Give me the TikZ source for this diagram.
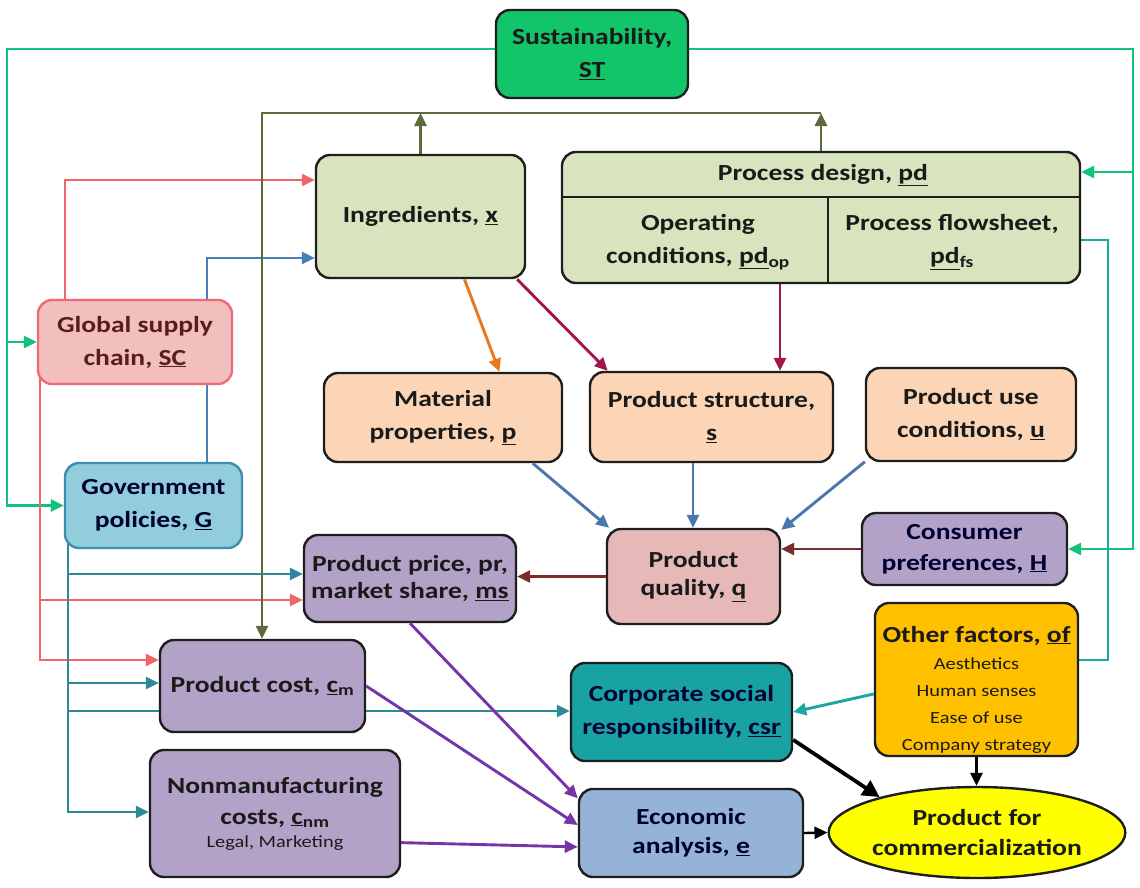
\documentclass[tikz,border=0pt]{standalone}
\usepackage{fontspec}
\setmainfont{Carlito}[FakeStretch=1.2]
\usetikzlibrary{arrows.meta,shapes.geometric,backgrounds}
\definecolor{grn}{HTML}{10C27A}
\definecolor{sustfill}{HTML}{12C46A}
\definecolor{redl}{HTML}{F0646A}
\definecolor{bluel}{HTML}{4A7FB5}
\definecolor{teall}{HTML}{2E8A9A}
\definecolor{olv}{HTML}{5C6A3C}
\definecolor{orng}{HTML}{E8781A}
\definecolor{crim}{HTML}{A3164C}
\definecolor{stl}{HTML}{4A78AE}
\definecolor{mar}{HTML}{7A2C2C}
\definecolor{purp}{HTML}{7435A8}
\definecolor{tealr}{HTML}{18A8A0}
\definecolor{lgreen}{HTML}{D7E4BD}
\definecolor{pinkf}{HTML}{F3BEBE}
\definecolor{pinkbd}{HTML}{EE6A76}
\definecolor{govf}{HTML}{92CDDC}
\definecolor{govbd}{HTML}{3C8FB0}
\definecolor{peach}{HTML}{FBD5B5}
\definecolor{pqf}{HTML}{E6B9B8}
\definecolor{lav}{HTML}{B3A2C7}
\definecolor{goldf}{HTML}{FFC000}
\definecolor{csrf}{HTML}{18A2A2}
\definecolor{econf}{HTML}{95B3D7}
\definecolor{yel}{HTML}{FFFF00}
\definecolor{txt}{HTML}{1A1A1A}
\definecolor{bd}{HTML}{1E1E1E}
\tikzset{
  nd/.style={draw=bd, rounded corners=14pt, line width=2.4pt, align=center,
    inner sep=1pt, text=txt, font=\bfseries\fontsize{23}{33}\selectfont},
  arr/.style={-{Triangle[length=13pt,width=12pt]}},
  ln/.style={line width=2.9pt},
  blk/.style={line width=3.8pt, draw=black},
  pdtext/.style={font=\bfseries\fontsize{23}{33}\selectfont, text=txt, align=center},
}
\newcommand{\sm}[1]{{\mdseries\fontsize{17}{25}\selectfont #1}}
\begin{document}
\begin{tikzpicture}[x=1pt,y=-1pt]
\useasboundingbox (0,0) rectangle (1140,887);
% nodes
\node[nd, fill=sustfill, minimum width=192pt, minimum height=88pt] (sust) at (592,54) {Sustainability,\\\underline{ST}};
\node[nd, fill=lgreen, minimum width=209pt, minimum height=123pt] (ingr) at (420.5,216.5) {Ingredients, \underline{x}};
\node[nd, fill=lgreen, minimum width=518pt, minimum height=131pt] (pd) at (821,217.5) {};
\draw[line width=2.2pt, draw=bd] (pd.west |- 0,197) -- (pd.east |- 0,197);
\draw[line width=2.2pt, draw=bd] (828,197) -- (828,283);
\node[pdtext] (pdt) at (823,175) {Process design, \underline{pd}};
\node[pdtext] (pdop) at (698,242) {Operating\\conditions, \underline{pd}\textsubscript{op}};
\node[pdtext] (pdfs) at (952,242) {Process flowsheet,\\\underline{pd}\textsubscript{fs}};
\node[nd, draw=pinkbd, fill=pinkf, text=mar!70!black, minimum width=194pt, minimum height=84pt] (gsc) at (135,342) {Global supply\\chain, \underline{SC}};
\node[nd, draw=govbd, fill=govf, text=black!80!blue, minimum width=177pt, minimum height=85pt] (gov) at (153.5,505.5) {Government\\policies, \underline{G}};
\node[nd, fill=peach, minimum width=238pt, minimum height=89pt] (matp) at (443,417.5) {Material\\properties, \underline{p}};
\node[nd, fill=peach, minimum width=243pt, minimum height=90pt] (pstr) at (711.5,417) {Product structure,\\\underline{s}};
\node[nd, fill=peach, minimum width=210pt, minimum height=93pt] (puse) at (971,414.5) {Product use\\conditions, \underline{u}};
\node[nd, fill=pqf, minimum width=173pt, minimum height=95pt, font=\bfseries\fontsize{23}{28}\selectfont] (pq) at (693.5,576.5) {Product\\quality, \underline{q}};
\node[nd, fill=lav, text=black!80!blue, minimum width=205pt, minimum height=72pt, font=\bfseries\fontsize{23}{31}\selectfont] (cpref) at (964.5,549) {Consumer\\preferences, \underline{H}};
\node[nd, fill=lav, minimum width=212pt, minimum height=87pt, font=\bfseries\fontsize{23}{27}\selectfont] (pprice) at (410,578.5) {Product price, pr,\\market share, \underline{ms}};
\node[nd, fill=goldf, minimum width=203pt, minimum height=153pt, font=\bfseries\fontsize{23}{27}\selectfont] (other) at (976.5,679.5) {\rule{0pt}{36pt}Other factors, \underline{of}\\\sm{Aesthetics}\\\sm{Human senses}\\\sm{Ease of use}\\\sm{Company strategy}};
\node[nd, fill=lav, minimum width=205pt, minimum height=92pt] (pcost) at (262.5,686) {Product cost, \underline{c}\textsubscript{m}};
\node[nd, fill=csrf, text=black!80!blue, minimum width=221pt, minimum height=98pt] (csr) at (681.5,712) {Corporate social\\responsibility, \underline{csr}};
\node[nd, fill=lav, minimum width=250pt, minimum height=127pt, font=\bfseries\fontsize{23}{31}\selectfont] (nonm) at (275,813.5) {Nonmanufacturing\\costs, \underline{c}\textsubscript{nm}\\[-8pt]\sm{Legal, Marketing}};
\node[nd, fill=econf, text=black!80!blue, minimum width=224pt, minimum height=88pt, font=\bfseries\fontsize{23}{29}\selectfont] (econ) at (691,833) {Economic\\analysis, \underline{e}};
\node[nd, ellipse, fill=yel, rounded corners=0pt, minimum width=240pt, minimum height=91pt, inner sep=0pt, font=\bfseries\fontsize{23}{30}\selectfont] (prod) at (977,832.5) {Product for\\commercialization};
% coordinates
\coordinate (gL) at (7,0); \coordinate (gR) at (1133,0); \coordinate (yG) at (0,49);
\coordinate (yPD) at (0,172);
\coordinate (rT) at (65,0); \coordinate (yR1) at (0,180);
\coordinate (rL) at (40,0); \coordinate (yR2) at (0,600); \coordinate (yR3) at (0,660);
\coordinate (bV) at (207,0); \coordinate (yB) at (0,258);
\coordinate (tV) at (68,0); \coordinate (yT1) at (0,574); \coordinate (yT2) at (0,683);
\coordinate (yT3) at (0,711); \coordinate (yT4) at (0,812);
\coordinate (oV) at (262,0); \coordinate (yO) at (0,113);
\coordinate (xC) at (780,0); \coordinate (xS) at (693,0);
\coordinate (tR) at (1108,0); \coordinate (yTR) at (0,240); \coordinate (yTR2) at (0,660);
\begin{scope}[on background layer]
  % green
  \draw[ln, grn, arr] (sust.west |- yG) -| (gL |- gov.west) -- (gov.west);
  \draw[ln, grn, arr] (gL |- gsc.west) -- (gsc.west);
  \draw[ln, grn, arr] (sust.east |- yG) -| (gR |- cpref.east) -- (cpref.east);
  \draw[ln, grn, arr] (gR |- yPD) -- (pd.east |- yPD);
  % red
  \draw[ln, redl, arr] (rT |- gsc.center) |- (ingr.west |- yR1);
  \draw[ln, redl, arr] (rL |- gsc.center) |- (pcost.west |- yR3);
  \draw[ln, redl, arr] (rL |- yR2) -- (pprice.west |- yR2);
  % blue
  \draw[ln, bluel, arr] (bV |- gov.center) |- (ingr.west |- yB);
  % teal from government
  \draw[ln, teall, arr] (tV |- gov.center) |- (nonm.west |- yT4);
  \draw[ln, teall, arr] (tV |- yT1) -- (pprice.west |- yT1);
  \draw[ln, teall, arr] (tV |- yT2) -- (pcost.west |- yT2);
  \draw[ln, teall, arr] (tV |- yT3) -- (csr.west |- yT3);
  % olive
  \draw[ln, olv, arr] (ingr.north) -- (ingr.north |- yO);
  \draw[ln, olv, arr] (pd.north) -- (pd.north |- yO);
  \draw[ln, olv, arr] (pd.north |- yO) -| (oV |- pcost.north);
  % teal right
  \draw[ln, tealr] (pd.east |- yTR) -| (tR |- yTR2) -- (other.east |- yTR2);
\end{scope}
\draw[ln, tealr, arr] (other.188.7) -- (csr.east);
\draw[ln, orng, arr] (ingr.-55.1) -- (matp.39);
\draw[ln, crim, arr] (ingr.-33.6) -- (pstr.156.1);
\draw[ln, crim, arr] (pd.south -| xC) -- (pstr.north -| xC);
\draw[ln, stl, arr] (matp.-27.1) -- (pq.150.4);
\draw[ln, stl, arr] (pstr.south -| xS) -- (pq.north -| xS);
\draw[ln, stl, arr] (puse.204.2) -- (pq.28.8);
\draw[ln, mar, arr] (cpref.west) -- (cpref.west -| pq.east);
\draw[ln, mar, arr] (pq.west) -- (pq.west -| pprice.east);
\draw[ln, purp, arr] (pprice.south) -- (econ.163.6);
\draw[ln, purp, arr] (pcost.east) -- (econ.176.9);
\draw[ln, purp, arr] (nonm.-13.3) -- (econ.187.1);
\draw[blk, -{Triangle[length=17pt,width=17pt]}] (csr.-14.2) -- (prod.160.9);
\draw[blk, line width=2.8pt, arr] (other.south) -- (other.south |- prod.north);
\draw[blk, line width=2.4pt, arr] (econ.east) -- (prod.west);
\end{tikzpicture}
\end{document}
